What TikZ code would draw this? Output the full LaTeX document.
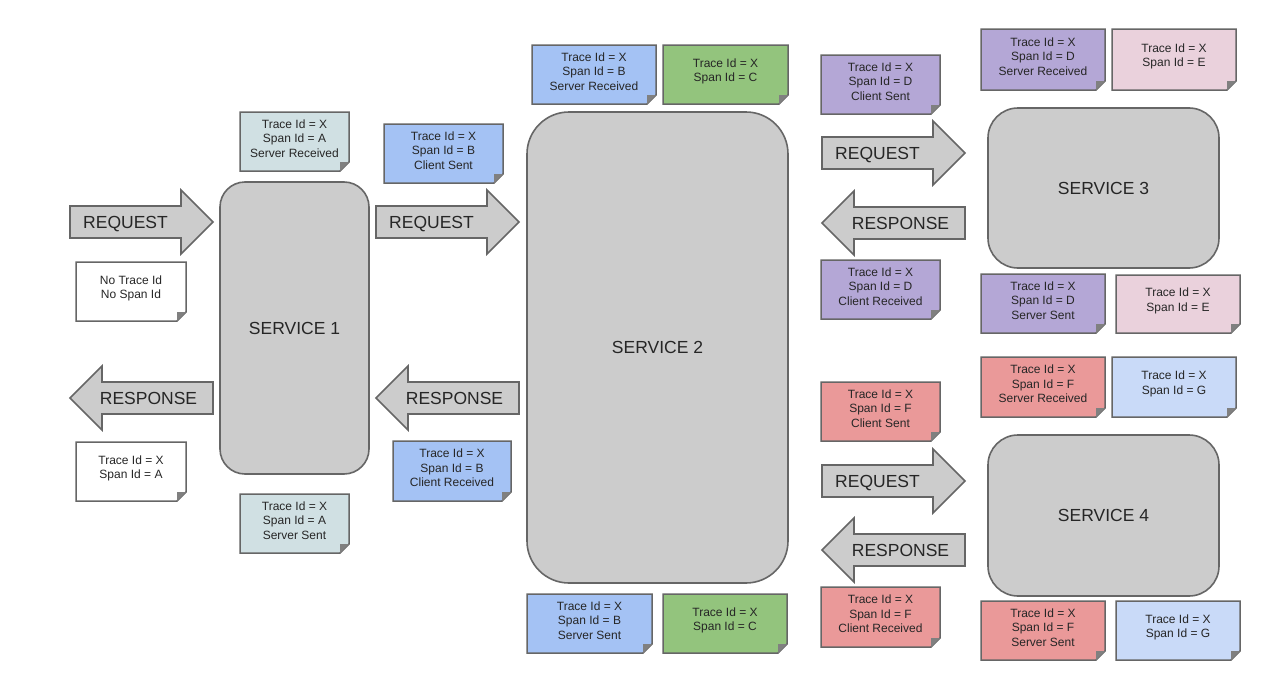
\documentclass[tikz,border=0pt]{standalone}
\usepackage{fontspec}
\setmainfont{Liberation Sans}
\definecolor{edge}{HTML}{666666}
\definecolor{shapegray}{HTML}{CCCCCC}
\definecolor{txt}{HTML}{262626}
\definecolor{cteal}{HTML}{D0E0E3}
\definecolor{cwhite}{HTML}{FFFFFF}
\definecolor{cblue}{HTML}{A4C2F4}
\definecolor{cgreen}{HTML}{93C47D}
\definecolor{cpurple}{HTML}{B4A7D6}
\definecolor{cpink}{HTML}{EAD1DC}
\definecolor{cred}{HTML}{EA9999}
\definecolor{clblue}{HTML}{C9DAF8}
\tikzset{
  noteline/.style={draw=edge, line width=1.5pt, line join=miter},
  notefold/.style={fill=black!50},
  notetext/.style={align=center, inner sep=0pt, text=txt, font=\fontsize{12}{14.5}\selectfont},
  svc/.style={draw=edge, fill=shapegray, line width=1.6pt, text=txt, font=\fontsize{17.5}{20}\selectfont},
  bigarrow/.style={draw=edge, fill=shapegray, line width=1.6pt, line join=miter},
  arrowtext/.style={inner sep=0pt, anchor=base, text=txt, font=\fontsize{17.5}{20}\selectfont}
}
\newcommand\fc{9}
% name, x1, y1, x2, y2, colour, text
\newcommand\stickynote[7]{%
  \filldraw[noteline, fill=#6] (#2,#3) -- (#4,#3) -- (#4,{#5-\fc}) -- ({#4-\fc},#5) -- (#2,#5) -- cycle;
  \fill[notefold] ({#4-\fc},{#5-\fc}) -- (#4,{#5-\fc}) -- ({#4-\fc},#5) -- cycle;
  \node[notetext] (#1) at ({(#2+#4)/2},{(#3+#5)/2-3}) {#7};
}
% name, tail x, centre y
\newcommand\reqarrow[3]{%
  \draw[bigarrow] (#2,{#3-16}) -- ({#2+111},{#3-16}) -- ({#2+111},{#3-32}) -- ({#2+143},#3)
    -- ({#2+111},{#3+32}) -- ({#2+111},{#3+16}) -- (#2,{#3+16}) -- cycle;
  \node[arrowtext] (#1) at ({#2+55.5},{#3+6.5}) {REQUEST};
}
% name, tip x, centre y
\newcommand\resarrow[3]{%
  \draw[bigarrow] (#2,#3) -- ({#2+32},{#3-32}) -- ({#2+32},{#3-16}) -- ({#2+143},{#3-16})
    -- ({#2+143},{#3+16}) -- ({#2+32},{#3+16}) -- ({#2+32},{#3+32}) -- cycle;
  \node[arrowtext] (#1) at ({#2+143-64.5},{#3+6.5}) {RESPONSE};
}
\begin{document}
\begin{tikzpicture}[x=1pt, y=-1pt]
\useasboundingbox[fill=white] (0,0) rectangle (1286,696);

% services
\node[svc, minimum width=149pt, minimum height=292pt, rounded corners=25pt] (s1) at (294.5,328) {SERVICE 1};
\node[svc, minimum width=261pt, minimum height=471pt, rounded corners=42pt] (s2) at (657.5,347.5) {SERVICE 2};
\node[svc, minimum width=231pt, minimum height=160pt, rounded corners=30pt] (s3) at (1103.5,188) {SERVICE 3};
\node[svc, minimum width=231pt, minimum height=161pt, rounded corners=30pt] (s4) at (1103.5,515.5) {SERVICE 4};

% arrows
\reqarrow{req1}{70}{222}
\resarrow{res1}{70}{398}
\reqarrow{req2}{376}{222}
\resarrow{res2}{376}{398}
\reqarrow{req3}{822}{153}
\resarrow{res3}{822}{223}
\reqarrow{req4}{822}{481}
\resarrow{res4}{822}{550}

% notes: service 1
\stickynote{nsa}{240}{112}{349}{171}{cteal}{Trace Id = X\\Span Id = A\\Server Received}
\stickynote{nnone}{76}{262}{186}{321}{cwhite}{No Trace Id\\No Span Id}
\stickynote{nresa}{76}{442}{186}{501}{cwhite}{Trace Id = X\\Span Id = A}
\stickynote{nssa}{240}{494}{349}{553}{cteal}{Trace Id = X\\Span Id = A\\Server Sent}
% service 2
\stickynote{ncsb}{384}{124}{503}{183}{cblue}{Trace Id = X\\Span Id = B\\Client Sent}
\stickynote{nsrb}{532}{45}{656}{104}{cblue}{Trace Id = X\\Span Id = B\\Server Received}
\stickynote{nctop}{663}{45}{788}{104}{cgreen}{Trace Id = X\\Span Id = C}
\stickynote{ncrb}{393}{441}{511}{501}{cblue}{Trace Id = X\\Span Id = B\\Client Received}
\stickynote{nssb}{527}{594}{652}{653}{cblue}{Trace Id = X\\Span Id = B\\Server Sent}
\stickynote{ncbot}{663}{594}{787}{653}{cgreen}{Trace Id = X\\Span Id = C}
% service 3
\stickynote{ncsd}{821}{55}{940}{114}{cpurple}{Trace Id = X\\Span Id = D\\Client Sent}
\stickynote{nsrd}{981}{29}{1105}{90}{cpurple}{Trace Id = X\\Span Id = D\\Server Received}
\stickynote{netop}{1112}{29}{1236}{90}{cpink}{Trace Id = X\\Span Id = E}
\stickynote{ncrd}{821}{260}{940}{319}{cpurple}{Trace Id = X\\Span Id = D\\Client Received}
\stickynote{nssd}{981}{274}{1105}{333}{cpurple}{Trace Id = X\\Span Id = D\\Server Sent}
\stickynote{nebot}{1116}{275}{1240}{333}{cpink}{Trace Id = X\\Span Id = E}
% service 4
\stickynote{ncsf}{821}{382}{940}{441}{cred}{Trace Id = X\\Span Id = F\\Client Sent}
\stickynote{nsrf}{981}{357}{1105}{417}{cred}{Trace Id = X\\Span Id = F\\Server Received}
\stickynote{ngtop}{1112}{357}{1236}{417}{clblue}{Trace Id = X\\Span Id = G}
\stickynote{ncrf}{821}{587}{940}{647}{cred}{Trace Id = X\\Span Id = F\\Client Received}
\stickynote{nssf}{981}{601}{1105}{660}{cred}{Trace Id = X\\Span Id = F\\Server Sent}
\stickynote{ngbot}{1116}{601}{1240}{660}{clblue}{Trace Id = X\\Span Id = G}
\end{tikzpicture}
\end{document}
